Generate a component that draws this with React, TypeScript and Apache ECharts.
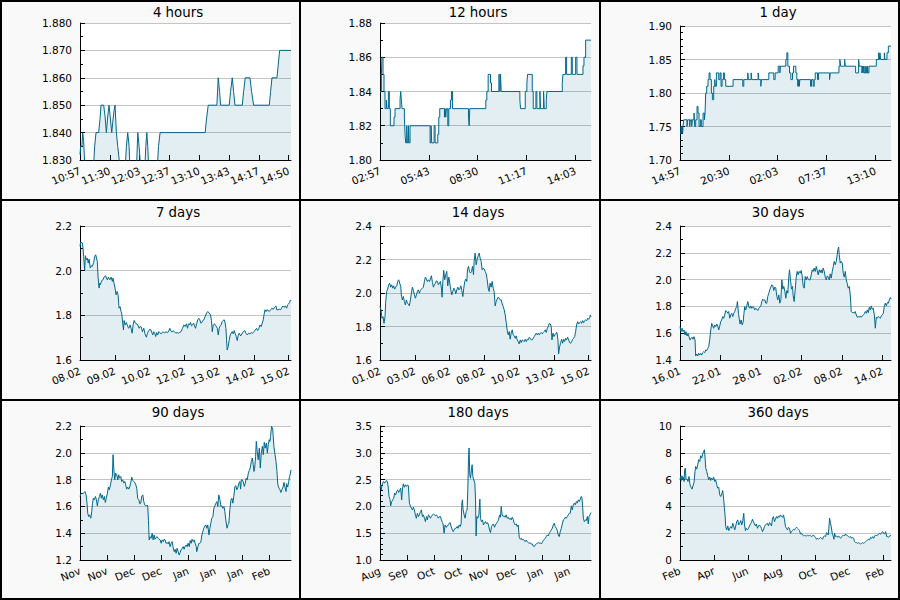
import React, { useEffect, useRef } from 'react';
import * as echarts from 'echarts';

const titles = ['4 hours', '12 hours', '1 day', '7 days', '14 days', '30 days', '90 days', '180 days', '360 days'];

const xLabels4h = ['10:57', '11:30', '12:03', '12:37', '13:10', '13:43', '14:17', '14:50'];
const xLabels12h = ['02:57', '05:43', '08:30', '11:17', '14:03'];
const xLabels1d = ['14:57', '20:30', '02:03', '07:37', '13:10'];
const xLabels7d = ['08.02', '09.02', '10.02', '12.02', '13.02', '14.02', '15.02'];
const xLabels14d = ['01.02', '03.02', '06.02', '08.02', '10.02', '13.02', '15.02'];
const xLabels30d = ['16.01', '22.01', '28.01', '02.02', '08.02', '14.02'];
const xLabels90d = ['Nov', 'Nov', 'Dec', 'Dec', 'Jan', 'Jan', 'Jan', 'Feb'];
const xLabels180d = ['Aug', 'Sep', 'Oct', 'Oct', 'Nov', 'Dec', 'Jan', 'Jan'];
const xLabels360d = ['Feb', 'Apr', 'Jun', 'Aug', 'Oct', 'Dec', 'Feb'];

// [minutes since start, value]
const d4h = [[0,1.832],[0.7,1.835],[2.2,1.835],[3.0,1.840],[4.1,1.837],[5.6,1.826],[14.9,1.826],[16.4,1.835],[17.9,1.840],[20.9,1.840],[22.4,1.845],[23.5,1.850],[26.5,1.850],[28.0,1.846],[29.5,1.840],[31.0,1.846],[32.5,1.850],[34.0,1.845],[35.5,1.840],[37.0,1.845],[38.1,1.848],[39.2,1.850],[40.7,1.840],[42.2,1.835],[45.2,1.826],[50.4,1.826],[51.9,1.835],[53.4,1.840],[54.9,1.835],[56.0,1.826],[63.1,1.826],[64.6,1.840],[66.1,1.835],[68.0,1.826],[72.4,1.826],[73.6,1.835],[74.7,1.840],[75.8,1.835],[76.9,1.826],[86.3,1.826],[87.8,1.835],[89.6,1.840],[140.0,1.840],[141.5,1.845],[143.4,1.850],[153.1,1.850],[154.6,1.860],[156.1,1.855],[157.2,1.850],[166.9,1.850],[168.4,1.855],[170.3,1.860],[171.8,1.855],[173.3,1.850],[181.5,1.850],[183.0,1.855],[184.8,1.860],[190.1,1.860],[191.9,1.855],[194.2,1.850],[211.7,1.850],[213.2,1.855],[214.7,1.860],[220.3,1.860],[221.8,1.865],[223.3,1.870],[236,1.870]];

const d12h = [[0,1.84],[4.6,1.85],[6.8,1.86],[10.3,1.85],[13.7,1.84],[17.1,1.83],[21.6,1.835],[23.9,1.83],[28.5,1.84],[31.9,1.83],[35.3,1.82],[47.8,1.825],[51.3,1.83],[68.4,1.835],[70.6,1.84],[72.9,1.835],[75.2,1.83],[83.2,1.825],[85.4,1.815],[87.7,1.81],[91.1,1.82],[93.4,1.81],[96.8,1.82],[99.1,1.81],[102.5,1.82],[170.9,1.81],[174.3,1.82],[176.6,1.81],[184.6,1.82],[188.0,1.81],[197.1,1.815],[200.5,1.825],[203.9,1.83],[219.9,1.825],[222.1,1.83],[224.4,1.825],[226.7,1.83],[231.3,1.82],[234.7,1.83],[240.4,1.835],[243.8,1.84],[247.2,1.83],[301.9,1.825],[304.2,1.82],[306.4,1.83],[361.1,1.835],[364.5,1.84],[369.1,1.85],[377.1,1.845],[380.5,1.84],[405.6,1.85],[409.0,1.84],[411.3,1.85],[413.6,1.84],[477.3,1.835],[479.6,1.83],[495.6,1.84],[501.2,1.845],[503.5,1.85],[519.5,1.84],[522.9,1.83],[532.0,1.84],[535.4,1.83],[545.7,1.84],[547.9,1.83],[558.2,1.84],[560.5,1.83],[567.3,1.835],[569.6,1.84],[622.0,1.845],[624.3,1.85],[633.4,1.86],[636.8,1.85],[652.8,1.86],[656.2,1.85],[667.6,1.86],[672.1,1.85],[692.6,1.855],[696.0,1.86],[701.7,1.87],[720,1.87]];

const d1d = [[0,1.74],[6.8,1.75],[9.0,1.74],[11.4,1.75],[13.5,1.74],[16.0,1.75],[18.0,1.74],[20.5,1.75],[25.1,1.76],[47.8,1.75],[52.4,1.76],[66.1,1.75],[70.6,1.76],[79.7,1.75],[84.3,1.76],[95.7,1.77],[100.3,1.75],[107.1,1.76],[116.2,1.78],[123.0,1.77],[129.9,1.75],[139.0,1.76],[145.8,1.75],[157.2,1.77],[166.3,1.76],[170.9,1.77],[175.4,1.80],[182.3,1.81],[191.4,1.82],[198.2,1.83],[205.1,1.82],[214.2,1.80],[221.0,1.79],[230.1,1.81],[237.0,1.82],[241.5,1.81],[248.4,1.83],[264.3,1.82],[273.4,1.83],[280.3,1.81],[287.1,1.82],[296.2,1.83],[303.0,1.82],[312.2,1.81],[362.3,1.82],[428.4,1.81],[435.2,1.82],[462.5,1.83],[467.1,1.82],[485.3,1.83],[489.9,1.82],[533.2,1.83],[537.7,1.82],[551.4,1.81],[556.0,1.82],[606.1,1.83],[640.3,1.82],[649.4,1.83],[669.9,1.84],[681.3,1.83],[685.9,1.84],[722.3,1.85],[729.1,1.86],[736.0,1.84],[747.3,1.83],[756.5,1.82],[767.9,1.83],[774.7,1.84],[790.6,1.83],[797.5,1.82],[804.3,1.81],[807,1.82],[809,1.81],[812,1.82],[814,1.81],[818.0,1.82],[890.9,1.81],[897.7,1.82],[909.1,1.81],[915.9,1.82],[922.8,1.83],[938.7,1.82],[945.6,1.83],[1020.8,1.82],[1025.3,1.83],[1084.6,1.84],[1091.3,1.85],[1095.9,1.84],[1123.3,1.85],[1127.9,1.84],[1198.5,1.83],[1219.0,1.85],[1223.6,1.84],[1241.8,1.83],[1245,1.84],[1248,1.83],[1252,1.84],[1255,1.83],[1262,1.84],[1265,1.83],[1270,1.84],[1273,1.83],[1280,1.84],[1283,1.83],[1289.6,1.84],[1339.8,1.85],[1355.7,1.86],[1360.3,1.85],[1364.8,1.86],[1369.4,1.85],[1394.4,1.86],[1399.0,1.85],[1412.7,1.86],[1421.8,1.87],[1440,1.87]];

// [hours since start, value]
const d7d = [[0,2.109],[0.5,2.128],[1.9,2.124],[2.4,2.101],[2.9,2.064],[3.7,2.004],[4.3,2.067],[5.1,2.049],[5.8,2.056],[6.6,2.034],[7.2,2.052],[8.2,2.012],[9.0,2.022],[9.8,2.019],[10.9,2.037],[11.7,2.064],[12.5,2.071],[13.3,2.052],[13.8,2.041],[14.4,1.971],[15.2,1.922],[15.7,1.944],[16.2,1.937],[17.3,1.956],[18.3,1.959],[19.4,1.974],[20.5,1.977],[21.0,1.967],[21.8,1.959],[22.6,1.971],[23.7,1.959],[24.7,1.971],[25.8,1.952],[26.3,1.967],[27.1,1.944],[27.9,1.922],[28.7,1.892],[29.5,1.907],[30.3,1.892],[31.1,1.832],[31.9,1.839],[32.7,1.817],[33.2,1.810],[34.0,1.765],[34.6,1.735],[35.1,1.777],[35.9,1.757],[36.9,1.768],[38.0,1.750],[38.8,1.742],[39.9,1.757],[40.7,1.742],[41.5,1.720],[42.3,1.757],[43.1,1.777],[44.1,1.765],[45.2,1.762],[46.3,1.753],[47.1,1.742],[47.8,1.750],[48.9,1.747],[49.7,1.727],[50.8,1.742],[51.6,1.720],[52.1,1.712],[52.9,1.702],[53.7,1.720],[54.8,1.732],[55.6,1.738],[56.4,1.735],[57.2,1.723],[57.9,1.712],[58.7,1.727],[59.5,1.720],[60.3,1.705],[61.1,1.723],[61.9,1.712],[62.7,1.727],[63.5,1.723],[64.6,1.717],[65.4,1.723],[66.2,1.727],[67.3,1.720],[68.3,1.727],[69.4,1.723],[70.4,1.726],[71.5,1.742],[72.3,1.730],[73.4,1.726],[74.2,1.730],[75.2,1.727],[76.3,1.720],[77.4,1.723],[78.4,1.720],[79.5,1.724],[80.5,1.727],[81.6,1.742],[82.7,1.757],[83.7,1.750],[84.8,1.762],[85.6,1.742],[86.4,1.762],[87.2,1.757],[88.0,1.768],[88.8,1.753],[89.6,1.757],[90.4,1.765],[91.2,1.753],[92.0,1.742],[92.8,1.762],[93.8,1.780],[94.6,1.787],[95.4,1.780],[96.2,1.765],[97.0,1.768],[97.8,1.777],[98.6,1.780],[99.7,1.795],[100.7,1.810],[101.8,1.817],[102.9,1.810],[103.9,1.802],[104.7,1.777],[105.3,1.727],[106.1,1.757],[107.1,1.762],[108.2,1.753],[109.3,1.742],[110.1,1.712],[110.8,1.742],[111.6,1.753],[112.4,1.757],[113.2,1.772],[114.0,1.777],[114.8,1.780],[115.6,1.765],[116.2,1.742],[116.7,1.690],[117.2,1.645],[118.0,1.660],[118.8,1.690],[119.6,1.712],[120.4,1.720],[121.2,1.727],[122.0,1.717],[122.8,1.732],[123.6,1.717],[124.4,1.705],[125.2,1.687],[126.0,1.712],[126.8,1.720],[127.9,1.708],[128.9,1.717],[130.0,1.727],[131.1,1.732],[132.1,1.720],[133.2,1.712],[134.2,1.720],[135.3,1.717],[136.4,1.723],[137.4,1.720],[138.5,1.727],[139.6,1.735],[140.6,1.742],[141.4,1.732],[142.2,1.738],[143.3,1.757],[144.3,1.750],[145.1,1.765],[145.9,1.780],[146.5,1.802],[147.3,1.825],[148.1,1.817],[148.9,1.825],[149.7,1.822],[150.7,1.817],[151.8,1.825],[152.8,1.832],[153.9,1.827],[155.0,1.836],[156.0,1.842],[156.6,1.825],[157.6,1.825],[158.7,1.827],[159.8,1.825],[160.8,1.836],[161.6,1.842],[162.4,1.836],[163.5,1.842],[164.5,1.832],[165.3,1.847],[166.1,1.851],[166.9,1.857],[167.5,1.869],[168,1.866]];

const d14d = [[0,1.919],[1.6,1.899],[3.2,1.849],[4.8,1.859],[6.4,1.819],[8.0,1.859],[9.0,1.943],[10.6,2.009],[12.2,2.023],[13.8,2.049],[15.4,2.059],[17.0,2.035],[18.6,2.049],[20.2,2.029],[21.8,2.043],[23.4,2.023],[25.0,2.035],[26.6,2.043],[28.2,2.069],[29.8,2.079],[31.4,2.059],[33.0,2.039],[34.0,1.989],[35.6,1.959],[37.2,1.979],[38.8,1.949],[40.4,1.929],[42.0,1.959],[43.6,1.939],[45.2,1.935],[46.8,1.923],[48.4,1.959],[50.0,1.999],[51.6,2.035],[53.2,2.015],[54.8,1.989],[56.4,1.969],[58.0,1.989],[59.5,2.009],[61.1,2.019],[62.7,1.999],[64.3,2.015],[65.9,2.023],[67.5,2.029],[69.1,2.035],[70.7,2.069],[72.3,2.095],[73.9,2.083],[75.5,2.069],[77.1,2.079],[78.7,2.069],[80.3,2.083],[81.9,2.103],[83.5,2.063],[85.1,2.035],[86.7,2.049],[88.3,2.059],[89.8,2.073],[91.4,2.069],[93.0,2.049],[94.6,2.059],[96.2,2.069],[97.8,2.029],[98.9,1.975],[100.0,2.069],[101.5,2.135],[103.1,2.079],[104.7,2.109],[106.3,2.129],[107.9,2.043],[109.5,2.095],[111.1,2.059],[112.7,2.019],[114.3,1.989],[115.9,2.009],[117.5,2.029],[119.1,2.019],[120.7,1.995],[122.3,2.019],[123.9,2.035],[125.5,2.019],[127.1,2.023],[128.7,2.043],[130.3,2.015],[131.9,1.979],[133.4,2.029],[135.0,2.069],[136.6,2.083],[138.2,2.069],[139.3,2.139],[140.9,2.159],[142.5,2.129],[144.1,2.119],[145.7,2.129],[147.3,2.159],[148.9,2.109],[149.9,2.189],[151.5,2.238],[153.1,2.169],[154.7,2.202],[156.3,2.222],[157.9,2.238],[159.5,2.208],[161.1,2.189],[162.7,2.139],[164.3,2.149],[165.9,2.143],[167.5,2.129],[169.1,2.115],[170.7,2.079],[172.3,2.029],[173.8,2.009],[175.4,2.059],[177.0,2.035],[178.6,2.069],[180.2,2.029],[181.8,2.009],[183.4,1.923],[185.0,1.949],[186.6,1.963],[188.2,1.975],[189.8,1.969],[191.4,1.959],[193.0,1.959],[194.6,1.935],[196.2,1.919],[197.8,1.899],[199.4,1.869],[201.0,1.823],[202.6,1.776],[204.2,1.750],[205.8,1.770],[207.3,1.724],[208.9,1.760],[210.5,1.780],[212.1,1.750],[213.7,1.744],[215.3,1.730],[216.9,1.744],[218.5,1.720],[220.1,1.710],[221.7,1.696],[223.3,1.720],[224.9,1.704],[226.5,1.720],[228.1,1.716],[229.7,1.710],[231.3,1.724],[232.9,1.710],[234.5,1.724],[236.1,1.720],[237.7,1.736],[239.2,1.730],[240.8,1.720],[242.4,1.720],[244.0,1.730],[245.6,1.740],[247.2,1.750],[248.8,1.760],[250.4,1.750],[252.0,1.760],[253.6,1.750],[255.2,1.760],[256.8,1.764],[258.4,1.756],[260.0,1.764],[261.6,1.770],[263.2,1.780],[264.8,1.764],[266.4,1.790],[268.0,1.800],[269.6,1.819],[271.1,1.815],[272.7,1.800],[273.8,1.720],[275.4,1.760],[277.0,1.740],[278.6,1.750],[280.2,1.760],[281.8,1.764],[283.4,1.720],[284.4,1.636],[286.0,1.680],[287.6,1.700],[289.2,1.724],[290.8,1.700],[292.4,1.724],[294.0,1.710],[295.6,1.730],[297.2,1.720],[298.8,1.736],[300.4,1.720],[302.0,1.704],[303.6,1.700],[305.2,1.710],[306.8,1.724],[308.4,1.730],[310.0,1.740],[311.5,1.770],[313.1,1.809],[314.7,1.829],[316.3,1.815],[317.9,1.823],[319.5,1.829],[321.1,1.819],[322.7,1.835],[324.3,1.823],[325.9,1.835],[327.5,1.839],[329.1,1.835],[330.7,1.849],[332.3,1.843],[333.9,1.855],[334.9,1.869],[336,1.859]];

// [days since start, value]
const d30d = [[0,1.649],[0.14,1.612],[0.28,1.637],[0.43,1.612],[0.57,1.624],[0.71,1.587],[0.85,1.612],[1.00,1.579],[1.14,1.599],[1.28,1.574],[1.42,1.550],[1.57,1.562],[1.71,1.570],[1.85,1.555],[1.99,1.574],[2.14,1.550],[2.23,1.430],[2.37,1.445],[2.52,1.430],[2.66,1.450],[2.80,1.437],[2.94,1.450],[3.09,1.437],[3.23,1.455],[3.37,1.462],[3.51,1.455],[3.66,1.475],[3.80,1.470],[3.94,1.487],[4.08,1.500],[4.22,1.550],[4.37,1.624],[4.51,1.674],[4.65,1.654],[4.79,1.637],[4.94,1.662],[5.08,1.649],[5.22,1.669],[5.36,1.654],[5.51,1.624],[5.65,1.654],[5.79,1.687],[5.93,1.699],[6.08,1.724],[6.22,1.712],[6.36,1.737],[6.50,1.769],[6.65,1.762],[6.79,1.749],[6.93,1.762],[7.07,1.712],[7.22,1.737],[7.36,1.749],[7.50,1.724],[7.64,1.749],[7.78,1.762],[7.93,1.786],[8.07,1.799],[8.16,1.836],[8.31,1.749],[8.45,1.699],[8.54,1.669],[8.69,1.699],[8.83,1.662],[8.97,1.679],[9.07,1.737],[9.21,1.799],[9.35,1.774],[9.49,1.804],[9.64,1.836],[9.78,1.799],[9.92,1.786],[10.06,1.804],[10.21,1.786],[10.35,1.799],[10.49,1.794],[10.63,1.774],[10.78,1.786],[10.92,1.779],[11.06,1.769],[11.20,1.786],[11.34,1.794],[11.49,1.804],[11.63,1.836],[11.77,1.854],[11.91,1.844],[12.06,1.849],[12.20,1.824],[12.34,1.824],[12.48,1.874],[12.63,1.899],[12.77,1.924],[12.91,1.944],[13.05,1.961],[13.20,1.954],[13.34,1.919],[13.48,1.944],[13.62,1.936],[13.77,1.874],[13.91,1.849],[14.05,1.886],[14.19,1.824],[14.34,1.849],[14.48,1.998],[14.62,1.929],[14.76,1.949],[14.91,1.911],[15.05,1.861],[15.19,1.919],[15.33,1.899],[15.47,2.023],[15.57,2.073],[15.71,1.998],[15.85,1.929],[16.00,1.949],[16.09,1.879],[16.23,1.836],[16.38,1.924],[16.52,2.018],[16.66,2.061],[16.80,2.036],[16.95,2.061],[17.09,2.048],[17.23,2.068],[17.37,2.028],[17.52,1.949],[17.66,1.936],[17.80,2.023],[17.94,1.998],[18.09,2.023],[18.23,2.003],[18.37,1.998],[18.51,1.998],[18.66,2.036],[18.80,2.073],[18.94,2.061],[19.08,2.086],[19.23,2.061],[19.37,2.098],[19.51,2.068],[19.65,2.036],[19.79,2.073],[19.94,2.053],[20.08,2.073],[20.22,2.048],[20.36,2.086],[20.51,2.061],[20.65,2.018],[20.79,1.998],[20.93,2.028],[21.08,2.018],[21.22,1.998],[21.36,2.043],[21.50,2.011],[21.65,2.061],[21.79,2.098],[21.93,2.136],[22.07,2.111],[22.22,2.136],[22.36,2.186],[22.45,2.223],[22.55,2.243],[22.64,2.186],[22.78,2.123],[22.93,2.136],[23.07,2.123],[23.21,2.048],[23.35,2.018],[23.50,2.061],[23.64,1.998],[23.78,1.969],[23.92,1.936],[24.07,1.949],[24.21,1.886],[24.35,1.762],[24.49,1.754],[24.64,1.754],[24.78,1.749],[24.92,1.762],[25.06,1.737],[25.21,1.719],[25.35,1.724],[25.49,1.719],[25.63,1.729],[25.78,1.719],[25.92,1.729],[26.06,1.737],[26.20,1.744],[26.35,1.762],[26.49,1.749],[26.63,1.774],[26.77,1.754],[26.91,1.794],[27.06,1.774],[27.20,1.804],[27.34,1.779],[27.48,1.786],[27.63,1.737],[27.77,1.637],[27.91,1.719],[28.05,1.712],[28.20,1.724],[28.34,1.719],[28.48,1.712],[28.62,1.729],[28.77,1.737],[28.91,1.749],[29.05,1.804],[29.19,1.824],[29.34,1.804],[29.48,1.829],[29.62,1.824],[29.76,1.849],[29.91,1.866],[30,1.854]];

const d90d = [[0,1.674],[0.4,1.694],[0.9,1.699],[1.3,1.694],[1.7,1.704],[2.1,1.711],[2.6,1.686],[3.0,1.624],[3.3,1.549],[3.7,1.524],[4.1,1.537],[4.6,1.512],[5.0,1.561],[5.3,1.619],[5.7,1.661],[6.1,1.649],[6.6,1.674],[7.0,1.649],[7.4,1.604],[7.8,1.649],[8.3,1.674],[8.7,1.699],[9.1,1.661],[9.5,1.686],[10.0,1.649],[10.4,1.674],[10.8,1.629],[11.2,1.661],[11.7,1.699],[12.1,1.744],[12.5,1.724],[13.0,1.761],[13.4,1.798],[13.8,1.823],[14.1,1.986],[14.4,1.886],[14.8,1.798],[15.2,1.848],[15.7,1.836],[16.1,1.798],[16.5,1.836],[16.9,1.811],[17.4,1.823],[17.8,1.786],[18.2,1.798],[18.7,1.774],[19.1,1.786],[19.5,1.761],[19.9,1.729],[20.4,1.744],[20.8,1.729],[21.2,1.744],[21.6,1.774],[22.1,1.818],[22.5,1.793],[22.9,1.786],[23.4,1.779],[23.8,1.761],[24.2,1.736],[24.6,1.661],[25.1,1.649],[25.5,1.619],[25.9,1.624],[26.3,1.674],[26.8,1.686],[27.2,1.636],[27.6,1.611],[28.1,1.604],[28.5,1.611],[28.9,1.604],[29.2,1.494],[29.5,1.350],[29.9,1.374],[30.3,1.362],[30.8,1.399],[31.2,1.350],[31.6,1.387],[32.0,1.355],[32.5,1.369],[32.9,1.374],[33.3,1.362],[33.7,1.355],[34.2,1.350],[34.6,1.325],[35.0,1.350],[35.5,1.337],[35.9,1.355],[36.3,1.350],[36.7,1.325],[37.2,1.330],[37.6,1.320],[38.0,1.337],[38.4,1.300],[38.9,1.325],[39.3,1.337],[39.7,1.295],[40.2,1.262],[40.6,1.280],[41.0,1.250],[41.4,1.287],[41.9,1.262],[42.3,1.237],[42.7,1.255],[43.1,1.275],[43.6,1.287],[44.0,1.300],[44.4,1.280],[44.9,1.305],[45.3,1.312],[45.7,1.300],[46.1,1.325],[46.6,1.300],[47.0,1.345],[47.4,1.325],[47.8,1.355],[48.3,1.337],[48.7,1.350],[49.1,1.325],[49.6,1.300],[49.8,1.262],[50.3,1.300],[50.7,1.325],[51.1,1.325],[51.5,1.330],[52.0,1.387],[52.4,1.412],[52.8,1.437],[53.3,1.454],[53.7,1.462],[54.1,1.437],[54.5,1.462],[55.0,1.387],[55.4,1.437],[55.8,1.474],[56.2,1.512],[56.7,1.524],[57.1,1.586],[57.5,1.604],[58.0,1.624],[58.4,1.636],[58.8,1.599],[59.2,1.686],[59.7,1.649],[60.1,1.599],[60.5,1.604],[60.9,1.586],[61.4,1.599],[61.8,1.561],[62.2,1.499],[62.7,1.437],[63.1,1.462],[63.5,1.474],[63.9,1.574],[64.4,1.649],[64.8,1.661],[65.2,1.624],[65.6,1.674],[66.1,1.749],[66.5,1.754],[66.9,1.724],[67.4,1.744],[67.8,1.774],[68.2,1.786],[68.5,1.729],[68.8,1.798],[69.2,1.798],[69.6,1.786],[70.1,1.749],[70.5,1.774],[70.9,1.811],[71.3,1.798],[71.8,1.848],[72.2,1.868],[72.6,1.886],[73.1,1.936],[73.5,1.961],[73.9,1.911],[74.2,1.861],[74.5,1.886],[74.9,1.973],[75.2,2.085],[75.6,2.010],[76.0,1.948],[76.5,2.035],[76.9,1.886],[77.3,1.993],[77.8,2.048],[78.2,1.986],[78.6,2.078],[79.0,2.035],[79.5,2.073],[79.9,1.998],[80.3,2.060],[80.7,2.098],[81.0,2.085],[81.3,2.123],[81.7,2.198],[82.2,2.178],[82.4,2.123],[82.7,2.048],[83.2,1.986],[83.6,1.936],[84.0,1.861],[84.4,1.761],[84.9,1.736],[85.3,1.724],[85.7,1.704],[86.1,1.724],[86.6,1.744],[87.0,1.779],[87.4,1.744],[87.9,1.711],[88.1,1.769],[88.6,1.744],[89.0,1.786],[89.4,1.823],[89.7,1.843],[90,1.873]];

const d180d = [[0,2.340],[0.6,2.403],[1.1,2.309],[1.7,2.384],[2.3,2.434],[3.1,2.465],[4.0,2.434],[4.8,2.465],[5.7,2.484],[6.6,2.434],[7.1,2.340],[7.7,2.185],[8.5,2.135],[9.1,2.010],[10.0,2.091],[10.8,2.122],[11.7,2.153],[12.5,2.247],[13.4,2.216],[14.2,2.278],[15.1,2.309],[15.9,2.259],[16.8,2.297],[17.7,2.340],[18.5,2.122],[19.1,2.309],[19.9,2.422],[20.8,2.359],[21.6,2.403],[22.5,2.372],[23.4,2.403],[24.2,2.384],[25.1,2.060],[25.9,2.010],[26.8,1.966],[27.6,1.935],[28.5,1.985],[29.3,1.935],[30.2,1.842],[31.0,1.779],[31.9,1.873],[32.8,1.811],[33.6,1.842],[34.5,1.904],[35.3,1.935],[36.2,1.811],[37.0,1.842],[37.9,1.779],[38.7,1.717],[39.6,1.811],[40.4,1.748],[41.3,1.842],[42.2,1.823],[43.0,1.779],[43.9,1.811],[44.7,1.842],[45.6,1.860],[46.4,1.842],[47.3,1.823],[48.1,1.842],[49.0,1.811],[49.8,1.779],[50.7,1.811],[51.6,1.811],[52.4,1.748],[53.3,1.698],[53.8,1.673],[54.7,1.499],[55.5,1.655],[56.4,1.611],[57.2,1.624],[58.1,1.655],[59.0,1.686],[59.8,1.698],[60.7,1.624],[61.5,1.574],[62.4,1.530],[63.2,1.561],[64.1,1.592],[64.9,1.592],[65.8,1.624],[66.6,1.592],[67.5,1.655],[68.4,1.624],[69.2,1.673],[69.8,2.047],[70.3,2.122],[70.9,1.935],[71.8,1.842],[72.6,1.779],[73.5,1.904],[74.3,1.935],[74.9,2.309],[75.5,2.870],[76.0,3.089],[76.6,2.590],[77.2,2.527],[78.0,2.683],[78.6,2.777],[79.2,2.559],[80.0,2.496],[80.9,2.434],[81.5,2.122],[82.0,1.449],[82.6,1.811],[83.4,1.779],[84.3,1.842],[85.2,2.135],[85.7,1.779],[86.6,1.717],[87.4,1.748],[88.3,1.655],[89.1,1.686],[90.0,1.717],[90.9,1.673],[91.7,1.698],[92.6,1.655],[93.4,1.561],[94.3,1.511],[95.1,1.624],[96.0,1.655],[96.8,1.673],[97.7,1.611],[98.5,1.655],[99.4,1.686],[100.3,1.717],[101.1,1.748],[102.0,1.842],[102.8,1.798],[103.4,1.998],[104.2,1.842],[105.1,1.811],[105.9,1.823],[106.8,1.798],[107.7,1.842],[108.5,1.779],[109.4,1.798],[110.2,1.761],[111.1,1.779],[111.9,1.748],[112.8,1.798],[113.6,1.761],[114.5,1.686],[115.3,1.655],[116.2,1.673],[117.1,1.624],[117.9,1.655],[118.8,1.424],[119.6,1.387],[120.5,1.405],[121.3,1.374],[122.2,1.387],[123.0,1.362],[123.9,1.343],[124.7,1.374],[125.6,1.343],[126.5,1.324],[127.3,1.312],[128.2,1.324],[129.0,1.299],[129.9,1.299],[130.7,1.262],[131.6,1.250],[132.4,1.281],[133.3,1.299],[134.1,1.312],[135.0,1.324],[135.9,1.312],[136.7,1.324],[137.6,1.299],[138.4,1.324],[139.3,1.362],[140.1,1.387],[141.0,1.405],[141.8,1.437],[142.7,1.468],[143.5,1.449],[144.4,1.499],[145.3,1.530],[146.1,1.561],[147.0,1.592],[147.8,1.655],[148.7,1.686],[149.5,1.624],[150.4,1.592],[151.2,1.549],[152.1,1.468],[152.9,1.437],[153.8,1.530],[154.7,1.592],[155.5,1.673],[156.4,1.748],[157.2,1.761],[158.1,1.798],[158.9,1.779],[159.8,1.811],[160.6,1.842],[161.5,1.873],[162.3,1.873],[163.2,2.010],[164.0,1.935],[164.9,2.029],[165.8,2.060],[166.6,2.029],[167.5,2.091],[168.3,2.060],[169.2,2.122],[170.0,2.091],[170.9,2.135],[171.7,2.185],[172.3,2.153],[172.9,1.985],[173.5,1.779],[174.3,1.717],[175.2,1.748],[176.0,1.736],[176.9,1.811],[177.7,1.673],[178.3,1.811],[179.1,1.842],[180,1.885]];

const d360d = [[0,5.985],[1.1,6.234],[2.3,5.935],[3.4,6.284],[4.6,5.985],[5.7,6.184],[6.8,5.860],[8.0,6.733],[9.1,6.858],[10.3,5.985],[12.0,6.035],[13.7,5.860],[15.4,6.234],[17.1,5.611],[18.8,5.436],[20.5,5.286],[22.2,5.536],[23.9,5.785],[25.6,6.608],[26.8,6.982],[28.5,6.783],[30.2,7.107],[31.9,7.481],[33.6,7.356],[35.3,7.780],[37.0,7.606],[38.7,7.930],[40.4,8.105],[41.6,8.229],[42.7,7.681],[43.9,6.858],[45.6,6.608],[47.3,6.284],[49.0,5.985],[50.7,6.184],[52.4,5.935],[54.1,6.109],[55.8,5.985],[57.5,6.184],[59.2,5.860],[60.9,5.985],[62.7,5.611],[64.4,5.361],[66.1,5.436],[67.8,4.862],[69.5,4.738],[71.2,4.937],[72.9,5.187],[74.6,4.488],[75.8,3.865],[76.9,3.366],[78.0,2.493],[79.7,2.244],[81.5,2.543],[83.2,2.194],[84.9,2.368],[86.6,2.493],[88.3,2.368],[90.0,2.743],[91.7,2.493],[93.4,2.244],[95.1,2.543],[96.8,2.867],[98.5,2.992],[100.2,2.618],[102.0,2.743],[103.7,2.942],[105.4,2.618],[107.1,2.942],[108.8,3.491],[109.9,2.693],[111.6,2.194],[113.3,2.368],[115.1,2.244],[116.8,2.368],[118.5,2.543],[120.2,2.693],[121.9,2.792],[123.6,3.042],[125.3,2.867],[127.0,2.693],[128.7,2.543],[130.4,2.693],[132.1,2.368],[133.9,2.543],[135.6,2.618],[137.3,2.493],[139.0,2.368],[140.7,2.119],[142.4,2.244],[144.1,2.493],[145.8,2.618],[147.5,2.693],[149.2,2.743],[150.9,2.543],[152.7,2.792],[154.4,2.693],[156.1,2.543],[157.8,3.117],[159.5,3.241],[161.2,2.867],[162.9,3.042],[164.6,3.241],[166.3,3.117],[168.0,3.291],[169.7,3.191],[171.4,3.366],[173.2,3.241],[174.9,3.191],[176.6,3.366],[178.3,2.992],[180.0,2.493],[181.7,2.368],[183.4,2.244],[185.1,2.443],[186.8,2.368],[188.5,1.994],[190.2,2.119],[192.0,2.194],[193.7,2.294],[195.4,2.244],[197.1,2.368],[198.8,2.443],[200.5,2.368],[202.2,2.294],[203.9,2.194],[205.6,1.944],[207.3,1.994],[209.0,1.870],[210.8,1.795],[212.5,1.870],[214.2,1.795],[215.9,1.795],[217.6,1.845],[219.3,1.795],[221.0,1.870],[222.7,1.795],[224.4,1.745],[226.1,1.795],[227.8,1.870],[229.5,1.745],[231.3,1.695],[233.0,1.545],[234.7,1.620],[236.4,1.545],[238.1,1.620],[239.8,1.695],[241.5,1.620],[243.2,1.545],[244.9,1.745],[246.6,1.795],[248.3,1.745],[250.1,2.044],[251.2,1.994],[252.9,1.870],[254.0,2.368],[255.2,3.117],[256.9,2.743],[258.0,2.493],[259.7,1.994],[261.4,1.795],[262.6,1.545],[263.7,1.994],[265.4,1.745],[267.1,1.795],[268.9,1.695],[270.6,1.795],[272.3,1.695],[274.0,1.620],[275.7,1.745],[277.4,1.795],[279.1,1.870],[280.8,1.795],[282.5,1.944],[284.2,1.870],[285.9,1.795],[287.7,1.745],[289.4,1.695],[291.1,1.745],[292.8,1.620],[294.5,1.695],[296.2,1.620],[297.9,1.371],[299.6,1.296],[301.3,1.296],[303.0,1.246],[304.7,1.296],[306.4,1.246],[308.2,1.197],[309.9,1.246],[311.6,1.296],[313.3,1.246],[315.0,1.296],[316.7,1.371],[318.4,1.446],[320.1,1.496],[321.8,1.545],[323.5,1.496],[325.2,1.695],[327.0,1.620],[328.7,1.745],[330.4,1.620],[332.1,1.795],[333.8,1.870],[335.5,1.795],[337.2,1.870],[338.9,1.944],[340.6,1.994],[342.3,1.919],[344.0,2.044],[345.7,2.119],[347.5,1.994],[349.2,1.944],[350.9,2.119],[352.6,1.745],[354.3,1.745],[356.0,1.695],[357.7,1.795],[358.8,1.845],[360,1.795]];

type Panel = {
  title: string; data: number[][]; step: boolean;
  xMax: number; xStep: number; xLabels: string[];
  yMin: number; yMax: number; yStep: number; dec: number; minor: number; top: number;
};

const panels: Panel[] = [
  { title: titles[0], data: d4h, step: false, xMax: 236, xStep: 33.333, xLabels: xLabels4h, yMin: 1.83, yMax: 1.88, yStep: 0.01, dec: 3, minor: 2, top: 23 },
  { title: titles[1], data: d12h, step: true, xMax: 720, xStep: 166.667, xLabels: xLabels12h, yMin: 1.8, yMax: 1.88, yStep: 0.02, dec: 2, minor: 2, top: 23 },
  { title: titles[2], data: d1d, step: true, xMax: 1440, xStep: 333.333, xLabels: xLabels1d, yMin: 1.7, yMax: 1.9, yStep: 0.05, dec: 2, minor: 5, top: 26 },
  { title: titles[3], data: d7d, step: false, xMax: 168, xStep: 27.7, xLabels: xLabels7d, yMin: 1.6, yMax: 2.2, yStep: 0.2, dec: 1, minor: 2, top: 26 },
  { title: titles[4], data: d14d, step: false, xMax: 336, xStep: 55.4, xLabels: xLabels14d, yMin: 1.6, yMax: 2.4, yStep: 0.2, dec: 1, minor: 2, top: 26 },
  { title: titles[5], data: d30d, step: false, xMax: 30, xStep: 5.75, xLabels: xLabels30d, yMin: 1.4, yMax: 2.4, yStep: 0.2, dec: 1, minor: 2, top: 26 },
  { title: titles[6], data: d90d, step: false, xMax: 90, xStep: 11.54, xLabels: xLabels90d, yMin: 1.2, yMax: 2.2, yStep: 0.2, dec: 1, minor: 2, top: 26 },
  { title: titles[7], data: d180d, step: false, xMax: 180, xStep: 23.08, xLabels: xLabels180d, yMin: 1.0, yMax: 3.5, yStep: 0.5, dec: 1, minor: 5, top: 26 },
  { title: titles[8], data: d360d, step: false, xMax: 360, xStep: 57.8, xLabels: xLabels360d, yMin: 0, yMax: 10, yStep: 2, dec: 0, minor: 2, top: 26 },
];

const LINE = '#00678d';
const FILL = 'rgba(0,105,143,0.16)';
const FONT = 'DejaVu Sans';

function buildOption() {
  const grid: any[] = [];
  const xAxis: any[] = [];
  const yAxis: any[] = [];
  const series: any[] = [];
  const graphic: any[] = [];

  panels.forEach((p, i) => {
    const cx = (i % 3) * 300;
    const cy = Math.floor(i / 3) * 200;
    grid.push({
      left: cx + 80, top: cy + p.top, width: 211, height: 160 - p.top,
      show: true, backgroundColor: '#ffffff', borderWidth: 0,
    });
    const ticks = p.xLabels.map((_, k) => k * p.xStep);
    xAxis.push({
      type: 'value', gridIndex: i, min: 0, max: p.xMax,
      axisLine: { show: true, onZero: false, lineStyle: { color: '#000', width: 1 } },
      axisTick: { show: true, inside: true, length: 5, customValues: ticks, lineStyle: { color: '#000' } },
      axisLabel: {
        customValues: ticks, rotate: 22, margin: 10, fontSize: 10.5, fontFamily: FONT, color: '#000',
        formatter: (v: number) => {
          const k = Math.round(v / p.xStep);
          return p.xLabels[k] ?? '';
        },
      },
      splitLine: { show: false },
    });
    yAxis.push({
      type: 'value', gridIndex: i, min: p.yMin, max: p.yMax, interval: p.yStep,
      axisLine: { show: true, onZero: false, lineStyle: { color: '#000', width: 1 } },
      axisTick: { show: true, inside: true, length: 5, lineStyle: { color: '#000' } },
      minorTick: { show: true, splitNumber: p.minor, length: 3, lineStyle: { color: '#000' } },
      axisLabel: {
        margin: 8, fontSize: 10.5, fontFamily: FONT, color: '#000',
        formatter: (v: number) => v.toFixed(p.dec),
      },
      splitLine: { show: true, lineStyle: { color: '#c4c4c4', width: 1 } },
    });
    series.push({
      type: 'line', xAxisIndex: i, yAxisIndex: i, data: p.data,
      step: p.step ? 'end' : false, symbol: 'none', showSymbol: false, silent: true,
      lineStyle: { color: LINE, width: 1 }, itemStyle: { color: LINE },
      areaStyle: { color: FILL, origin: 'start' },
    });
    graphic.push({
      type: 'text', x: cx + 178, y: cy + 12, z: 50,
      style: { text: p.title, textAlign: 'center', textVerticalAlign: 'middle', font: `13.33px "${FONT}"`, fill: '#000' },
    });
  });

  const borders = [
    [300, 0, 300, 600], [600, 0, 600, 600], [0, 200, 900, 200], [0, 400, 900, 400],
  ];
  borders.forEach(([x1, y1, x2, y2]) => {
    graphic.push({ type: 'line', z: 100, shape: { x1, y1, x2, y2 }, style: { stroke: '#000', lineWidth: 2 } });
  });
  graphic.push({ type: 'rect', z: 100, shape: { x: 1, y: 1, width: 898, height: 598 }, style: { fill: 'none', stroke: '#000', lineWidth: 2 } });

  return {
    animation: false,
    backgroundColor: '#f9f9f9',
    grid, xAxis, yAxis, series, graphic,
  };
}

export default function App() {
  const ref = useRef<HTMLDivElement>(null);
  useEffect(() => {
    if (!ref.current) return;
    const chart = echarts.init(ref.current, undefined, { renderer: 'svg' });
    chart.setOption(buildOption() as any);
    return () => chart.dispose();
  }, []);
  return <div ref={ref} style={{ position: 'fixed', left: 0, top: 0, width: 900, height: 600 }} />;
}
